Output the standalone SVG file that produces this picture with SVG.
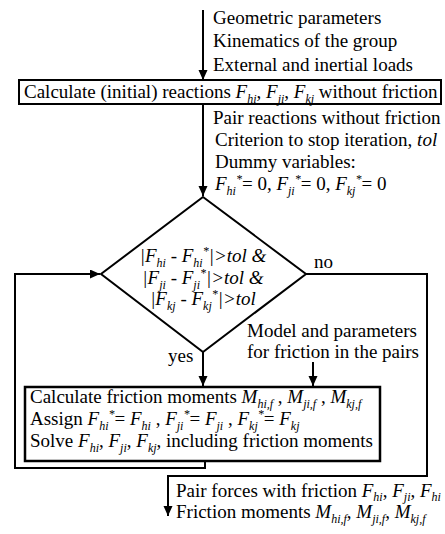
<svg xmlns="http://www.w3.org/2000/svg" width="445" height="534" viewBox="0 0 445 534">
<style>
.t{font-family:"Liberation Serif","Times New Roman",serif;font-size:19px;fill:#000}
.i{font-style:italic}
.s{font-size:12px;font-style:italic}
.ln{fill:none;stroke:#000;stroke-width:2}
.bx{fill:#fff;stroke:#000;stroke-width:2}
.bx3{fill:#fff;stroke:#000;stroke-width:2.5}
</style>
<defs>
<marker id="ah" markerUnits="userSpaceOnUse" markerWidth="10" markerHeight="12" refX="10" refY="4.5" orient="auto">
<path d="M0,0 L10,4.5 L0,9 z" fill="#000"/>
</marker>
</defs>
<rect width="445" height="534" fill="#fff"/>
<g id="connectors">
<line class="ln" x1="203" y1="10" x2="203" y2="80" marker-end="url(#ah)"/>
<line class="ln" x1="203" y1="104" x2="203" y2="196" marker-end="url(#ah)"/>
<line class="ln" x1="203" y1="352" x2="203" y2="386" marker-end="url(#ah)"/>
<line class="ln" x1="313" y1="362" x2="313" y2="386" marker-end="url(#ah)"/>
<polyline class="ln" points="205,461 205,468 15,468 15,274 100,274" marker-end="url(#ah)"/>
<polyline class="ln" points="306,274 427,274 427,476 168,476 168,516" marker-end="url(#ah)"/>
</g>
<g id="inputs">
<text class="t" x="213" y="24">Geometric parameters</text>
<text class="t" x="213" y="47">Kinematics of the group</text>
<text class="t" x="213" y="71">External and inertial loads</text>
</g>
<g id="initial-reactions">
<rect class="bx" x="19" y="80" width="422" height="24"/>
<text class="t" x="24" y="98">Calculate (initial) reactions <tspan class="i">F</tspan><tspan class="s" dy="5">hi</tspan><tspan dy="-5">, </tspan><tspan class="i">F</tspan><tspan class="s" dy="5">ji</tspan><tspan dy="-5">, </tspan><tspan class="i">F</tspan><tspan class="s" dy="5">kj</tspan><tspan dy="-5"> without friction</tspan></text>
</g>
<g id="pair-reactions">
<text class="t" x="213" y="124">Pair reactions without friction</text>
<text class="t" x="215" y="146">Criterion to stop iteration, <tspan class="i">tol</tspan></text>
<text class="t" x="215" y="168">Dummy variables:</text>
<text class="t" x="215" y="190"><tspan class="i">F</tspan><tspan class="s" dy="5">hi</tspan><tspan class="s" dy="-12">*</tspan><tspan dy="7">= 0, </tspan><tspan class="i">F</tspan><tspan class="s" dy="5">ji</tspan><tspan class="s" dy="-12">*</tspan><tspan dy="7">= 0, </tspan><tspan class="i">F</tspan><tspan class="s" dy="5">kj</tspan><tspan class="s" dy="-12">*</tspan><tspan dy="7">= 0</tspan></text>
</g>
<g id="decision">
<polygon class="bx" points="203,197 306,274 203,352 101,274"/>
<text class="t i" x="203" y="262" text-anchor="middle">|F<tspan class="s" dy="5">hi</tspan><tspan dy="-5"> - F</tspan><tspan class="s" dy="5">hi</tspan><tspan class="s" dy="-12">*</tspan><tspan dy="7">|&gt;tol &amp;</tspan></text>
<text class="t i" x="203" y="284" text-anchor="middle">|F<tspan class="s" dy="5">ji</tspan><tspan dy="-5"> - F</tspan><tspan class="s" dy="5">ji</tspan><tspan class="s" dy="-12">*</tspan><tspan dy="7">|&gt;tol &amp;</tspan></text>
<text class="t i" x="203" y="305" text-anchor="middle">|F<tspan class="s" dy="5">kj</tspan><tspan dy="-5"> - F</tspan><tspan class="s" dy="5">kj</tspan><tspan class="s" dy="-12">*</tspan><tspan dy="7">|&gt;tol</tspan></text>
<text class="t" x="314" y="268">no</text>
<text class="t" x="168" y="362">yes</text>
</g>
<g id="friction-model">
<text class="t" x="247" y="337">Model and parameters</text>
<text class="t" x="247" y="358">for friction in the pairs</text>
</g>
<g id="iteration">
<rect class="bx3" x="25" y="387" width="355" height="74"/>
<text class="t" x="30" y="403">Calculate friction moments <tspan class="i">M</tspan><tspan class="s" dy="5">hi,f</tspan><tspan dy="-5"> , </tspan><tspan class="i">M</tspan><tspan class="s" dy="5">ji,f</tspan><tspan dy="-5"> , </tspan><tspan class="i">M</tspan><tspan class="s" dy="5">kj,f</tspan></text>
<text class="t" x="30" y="425">Assign <tspan class="i">F</tspan><tspan class="s" dy="5">hi</tspan><tspan class="s" dy="-12">*</tspan><tspan dy="7">= </tspan><tspan class="i">F</tspan><tspan class="s" dy="5">hi</tspan><tspan dy="-5"> , </tspan><tspan class="i">F</tspan><tspan class="s" dy="5">ji</tspan><tspan class="s" dy="-12">*</tspan><tspan dy="7">= </tspan><tspan class="i">F</tspan><tspan class="s" dy="5">ji</tspan><tspan dy="-5"> , </tspan><tspan class="i">F</tspan><tspan class="s" dy="5">kj</tspan><tspan class="s" dy="-12">*</tspan><tspan dy="7">= </tspan><tspan class="i">F</tspan><tspan class="s" dy="5">kj</tspan></text>
<text class="t" x="30" y="447">Solve <tspan class="i">F</tspan><tspan class="s" dy="5">hi</tspan><tspan dy="-5">, </tspan><tspan class="i">F</tspan><tspan class="s" dy="5">ji</tspan><tspan dy="-5">, </tspan><tspan class="i">F</tspan><tspan class="s" dy="5">kj</tspan><tspan dy="-5">, including friction moments</tspan></text>
</g>
<g id="outputs">
<text class="t" x="176" y="497">Pair forces with friction <tspan class="i">F</tspan><tspan class="s" dy="4">hi</tspan><tspan dy="-4">, </tspan><tspan class="i">F</tspan><tspan class="s" dy="4">ji</tspan><tspan dy="-4">, </tspan><tspan class="i">F</tspan><tspan class="s" dy="4">hi</tspan></text>
<text class="t" x="176" y="518">Friction moments <tspan class="i">M</tspan><tspan class="s" dy="5">hi,f</tspan><tspan dy="-5">, </tspan><tspan class="i">M</tspan><tspan class="s" dy="5">ji,f</tspan><tspan dy="-5">, </tspan><tspan class="i">M</tspan><tspan class="s" dy="5">kj,f</tspan></text>
</g>
</svg>
